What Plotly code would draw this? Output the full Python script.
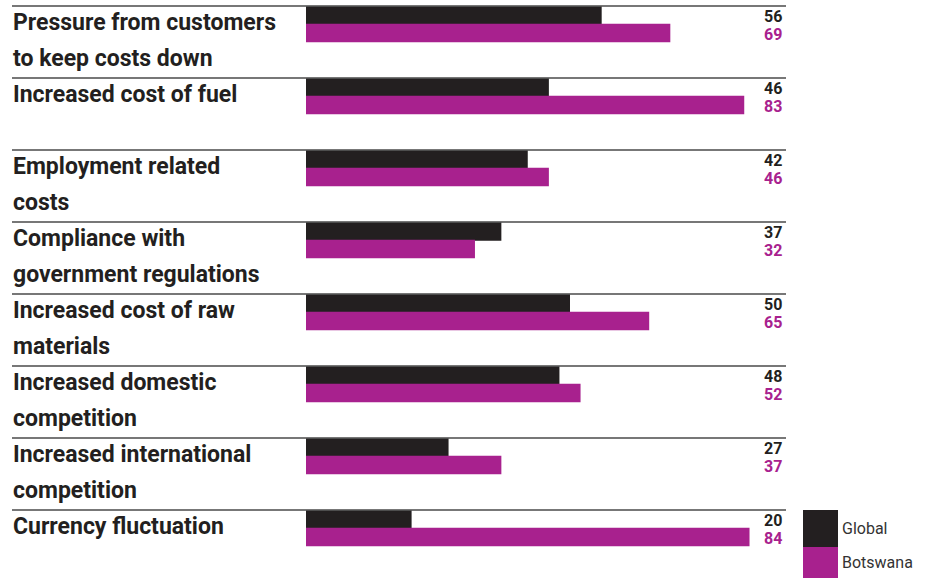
import plotly.graph_objects as go

categories = [
    "Pressure from customers<br>to keep costs down",
    "Increased cost of fuel",
    "Employment related<br>costs",
    "Compliance with<br>government regulations",
    "Increased cost of raw<br>materials",
    "Increased domestic<br>competition",
    "Increased international<br>competition",
    "Currency fluctuation",
]
global_vals = [56, 46, 42, 37, 50, 48, 27, 20]
botswana_vals = [69, 83, 46, 32, 65, 52, 37, 84]
series_names = ["Global", "Botswana"]

DARK = "#231F20"
MAGENTA = "#A8218E"
W, H = 928, 578
X0, SCALE = 306, 5.28          # pixel of zero, pixels per unit
TOP0, ROW = 6, 72              # first separator y, row height (pixels)
FONT = "Roboto"

def px_to_x(px):
    return (px - X0) / SCALE

row_tops = [TOP0 + ROW * i for i in range(len(categories))]

fig = go.Figure()
fig.add_trace(go.Bar(
    y=[t + 9.5 for t in row_tops], x=global_vals, orientation="h",
    width=18.5, marker=dict(color=DARK, line=dict(width=0)),
    name=series_names[0], hoverinfo="x+name",
))
fig.add_trace(go.Bar(
    y=[t + 27 for t in row_tops], x=botswana_vals, orientation="h",
    width=18.5, marker=dict(color=MAGENTA, line=dict(width=0)),
    name=series_names[1], hoverinfo="x+name",
))

shapes = []
annotations = []
for i, (cat, g, b) in enumerate(zip(categories, global_vals, botswana_vals)):
    top = row_tops[i]
    shapes.append(dict(type="line", xref="x", yref="y",
                       x0=px_to_x(12), x1=px_to_x(786), y0=top, y1=top,
                       line=dict(color="#4a4a4a", width=1.5), layer="above"))
    for j, line in enumerate(cat.split("<br>")):
        annotations.append(dict(
            text=f"<b>{line}</b>", xref="x", yref="y",
            x=px_to_x(11), y=top + 16 + 36 * j,
            xanchor="left", yanchor="middle", showarrow=False,
            font=dict(family=FONT, size=23, color=DARK)))
    annotations.append(dict(
        text=f"<b>{g}</b>", xref="x", yref="y", x=px_to_x(784), y=top + 10,
        xanchor="right", yanchor="middle", showarrow=False,
        font=dict(family=FONT, size=16, color=DARK)))
    annotations.append(dict(
        text=f"<b>{b}</b>", xref="x", yref="y", x=px_to_x(784), y=top + 28,
        xanchor="right", yanchor="middle", showarrow=False,
        font=dict(family=FONT, size=16, color=MAGENTA)))

# legend swatches
leg_top = row_tops[-1]
for k, (name, col) in enumerate(zip(series_names, [DARK, MAGENTA])):
    y0 = leg_top + 37 * k
    y1 = y0 + (37 if k == 0 else 31)
    shapes.append(dict(type="rect", xref="x", yref="y",
                       x0=px_to_x(803), x1=px_to_x(838), y0=y0, y1=y1,
                       fillcolor=col, line=dict(width=0)))
    annotations.append(dict(
        text=name, xref="x", yref="y", x=px_to_x(840), y=(y0 + y1) / 2,
        xanchor="left", yanchor="middle", showarrow=False,
        font=dict(family=FONT, size=16, color="#333333")))

fig.update_layout(
    width=W, height=H,
    margin=dict(l=0, r=0, t=0, b=0),
    paper_bgcolor="white", plot_bgcolor="white",
    barmode="overlay", showlegend=False,
    xaxis=dict(range=[px_to_x(0), px_to_x(W)], visible=False, fixedrange=True),
    yaxis=dict(range=[H, 0], visible=False, fixedrange=True),
    shapes=shapes, annotations=annotations,
)
fig.write_html("out.html")
